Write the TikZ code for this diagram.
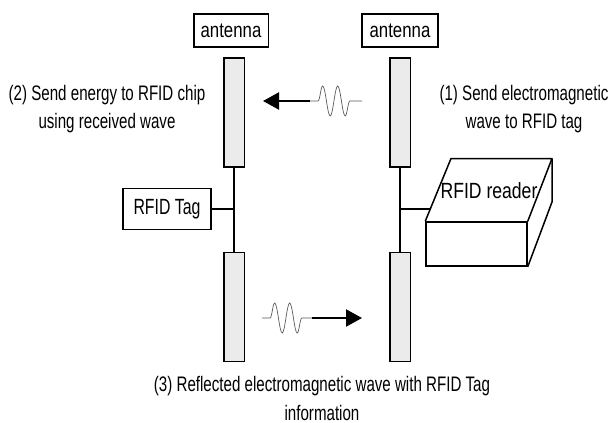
\documentclass[tikz,border=0pt]{standalone}
\usepackage{fontspec}
\setmainfont[FakeStretch=0.8]{Liberation Sans}
\newfontfamily\narrowfont[FakeStretch=0.72]{Liberation Sans}
\usepackage{tikz}
\usetikzlibrary{arrows.meta,decorations.pathmorphing}
\usetikzlibrary{positioning}
\tikzstyle{RFID_style}=[
	x=1pt,y=-1pt,
	box/.style={rectangle,draw,line width=1.5pt,fill=white,inner sep=0pt,font=\fontsize{21}{29}\selectfont},
	bar/.style={rectangle,draw,line width=1.5pt,fill=black!8,minimum width=20.5pt,minimum height=109pt,inner sep=0pt},
	label/.style={rectangle,draw=none,inner sep=0pt,align=center,font=\narrowfont\fontsize{21}{28.5}\selectfont},
	thin_edge/.style={line width=1.5pt},
	thick_edge/.style={line width=2.2pt,-{Triangle[length=16pt,width=17pt]}},
	wave_edge/.style={line width=0.7pt,draw=black!65,decorate,decoration={snake,segment length=15pt,amplitude=15pt,pre length=8pt,post length=8pt}}
]
\begin{document}
\begin{tikzpicture}[RFID_style]
		\useasboundingbox (0,0) rectangle (611,423);
		
		\node[box,minimum width=74.5pt,minimum height=33pt]    (a1) at (231,30.5)   {antenna};
		\node[box,minimum width=76pt,minimum height=33pt]      (a2) at (400,30.5)   {antenna};
		
		\node[bar]    (l1) at (234,112.5)   {};
		\node[bar]    (l2) at (234,307)     {};
		\node[bar]    (r1) at (400,112.5)   {};
		\node[bar]    (r2) at (400,307)     {};
		
		\node[box,minimum width=88pt,minimum height=41pt,font=\narrowfont\fontsize{22}{29}\selectfont]    (tag) at (167,209)   {RFID Tag};
		
		% reader box
		\node[box,minimum width=101pt,minimum height=44pt]   (front) at (476.5,244)   {};
		\coordinate (top1) at (451,158.5);
		\coordinate (top2) at (552,158.5);
		\coordinate (side) at (552,202);
		\coordinate (port) at (430.5,209);
		\draw[thin_edge,line join=round] (front.north west) -- (top1) -- (top2) -- (front.north east);
		\draw[thin_edge,line join=round] (top2) -- (side) -- (front.south east);
		\node[label,font=\fontsize{22}{29}\selectfont]    (reader) at (489,191)   {RFID reader};
		
		\node[label]    (t2) at (107,109)    {(2) Send energy to RFID chip\\using received wave};
		\node[label]    (t1) at (524,109)    {(1) Send electromagnetic\\wave to RFID tag};
		\node[label]    (t3) at (322,398.5)  {(3) Reflected electromagnetic wave with RFID Tag\\information};
		
		\path[thin_edge] (l1) edge (l2)
		(r1) edge (r2)
		(tag) edge (tag -| l1)
		(port) edge (port -| r1);
		
		% incoming wave
		\coordinate (w1a) at (263,101);
		\coordinate (w1b) at (310,101);
		\coordinate (w1c) at (362,101);
		\draw[wave_edge] (w1b) -- (w1c);
		\draw[thick_edge] (w1b) -- (w1a);
		
		% reflected wave
		\coordinate (w2a) at (262,318);
		\coordinate (w2b) at (312,318);
		\coordinate (w2c) at (362,318);
		\draw[wave_edge] (w2a) -- (w2b);
		\draw[thick_edge] (w2b) -- (w2c);
		
\end{tikzpicture}
\end{document}
